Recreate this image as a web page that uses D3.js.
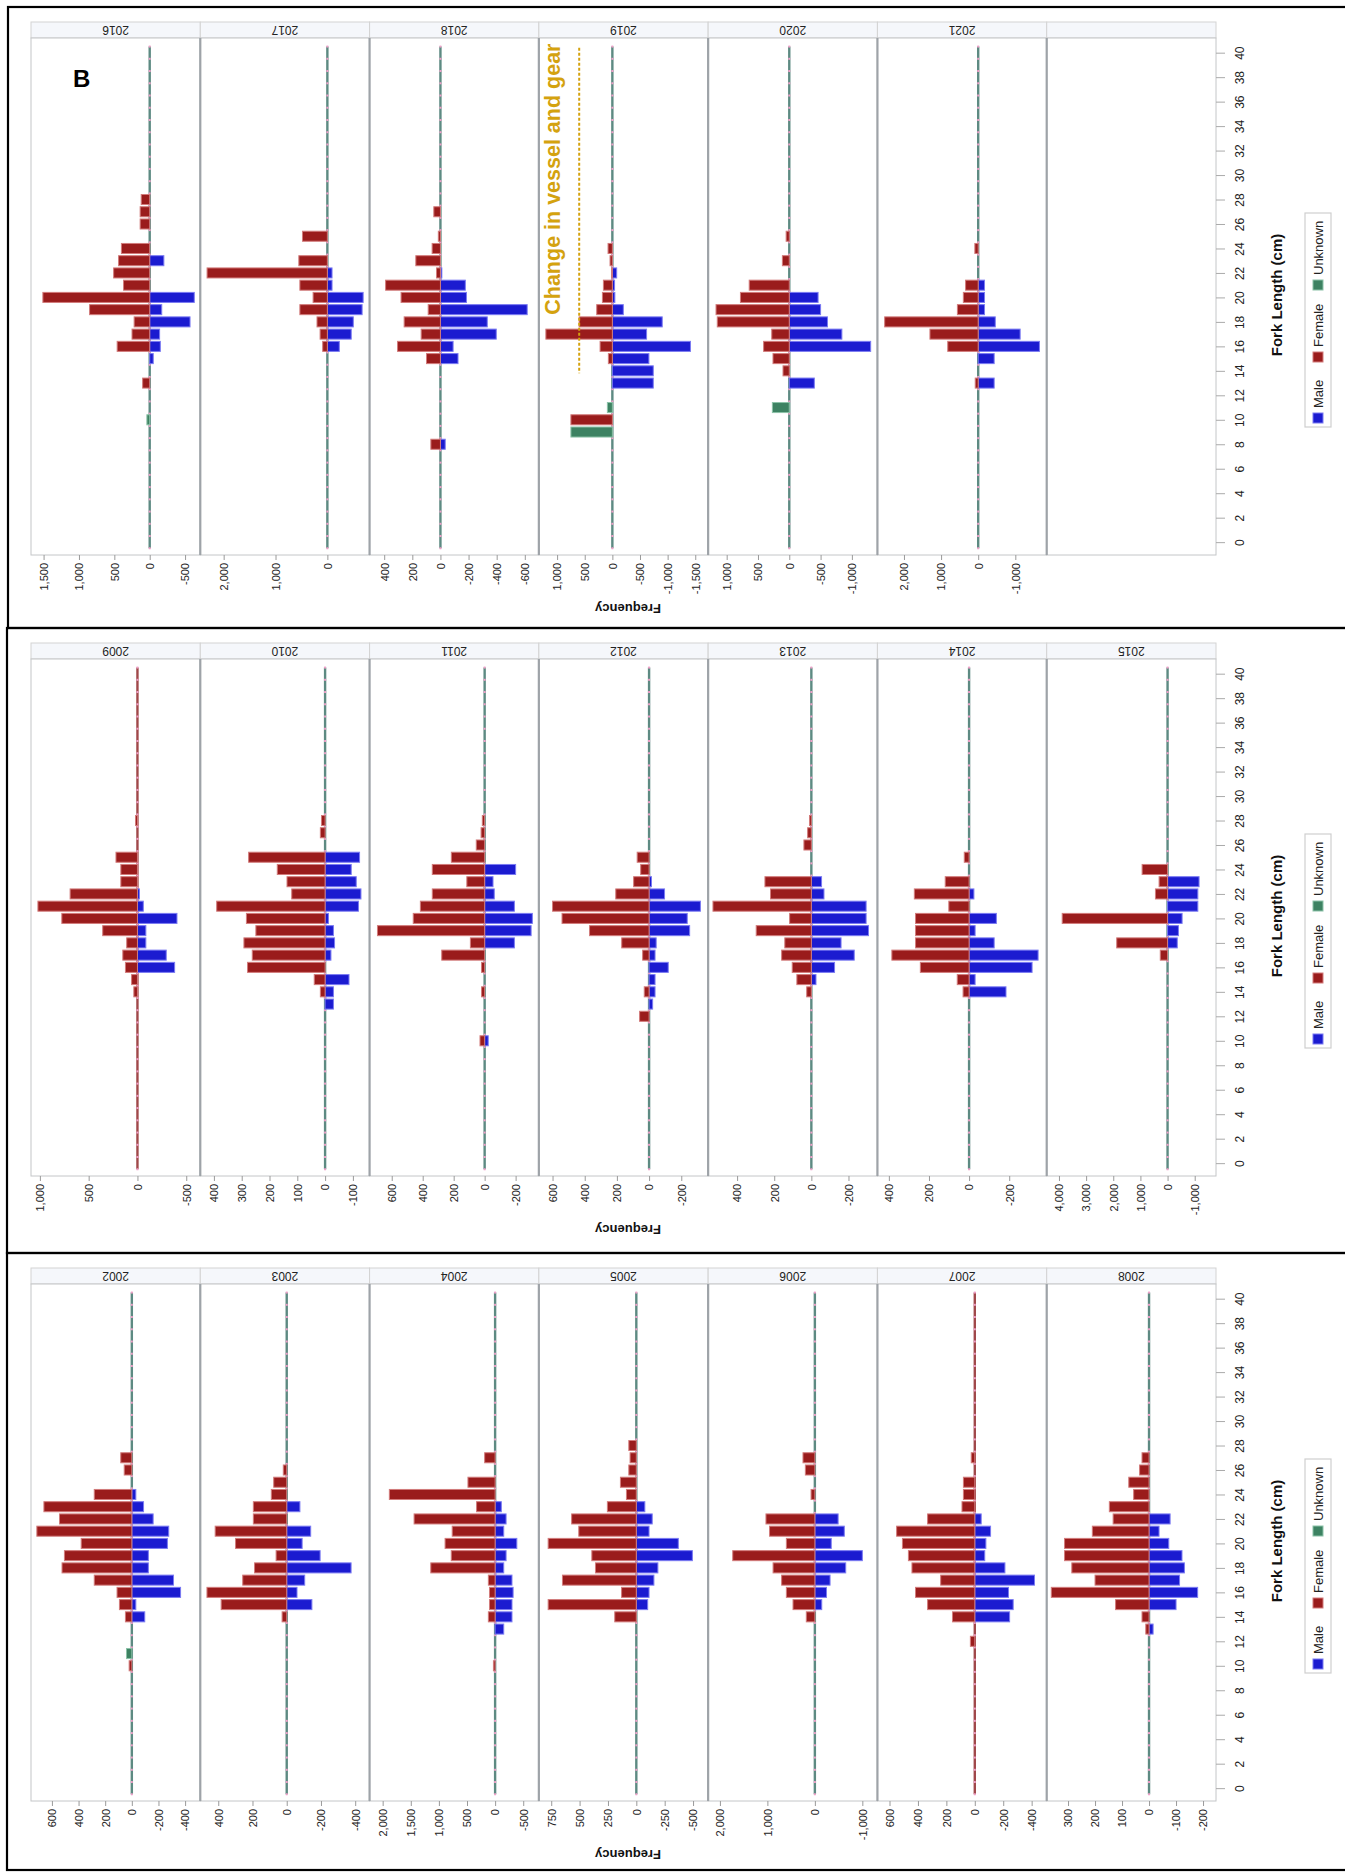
<!DOCTYPE html>
<html>
<head>
<meta charset="utf-8">
<script src="https://cdn.jsdelivr.net/npm/d3@7"></script>
<style>
  body { margin: 0; background: #fff; }
  svg { display: block; }
</style>
</head>
<body>
<svg id="chart" width="1345" height="1873"></svg>
<script>
// ---- Years shown in each framed row (left to right) ----
const rowYears = [
  ["2016", "2017", "2018", "2019", "2020", "2021", ""],
  ["2009", "2010", "2011", "2012", "2013", "2014", "2015"],
  ["2002", "2003", "2004", "2005", "2006", "2007", "2008"]
];
const rowTags = ["B", "", ""];

// ---- Frequency axis limits [left end, right end] per year (females positive, males negative) ----
const limitsRow1 = [[1678, -715], [2451, -814], [504, -700], [1330, -1733], [1296, -1408], [2715, -1846]];
const limitsRow2 = [[1091, -644], [449, -160], [743, -350], [685, -367], [556, -356], [457, -387], [4451, -1784]];
const limitsRow3 = [[757, -514], [505, -484], [2233, -778], [859, -633], [2248, -1318], [685, -506], [379, -248]];

// ---- Frequency tick values per year ----
const ticksRow1 = [[1500, 1000, 500, 0, -500], [2000, 1000, 0], [400, 200, 0, -200, -400, -600],
  [1000, 500, 0, -500, -1000, -1500], [1000, 500, 0, -500, -1000], [2000, 1000, 0, -1000]];
const ticksRow2 = [[1000, 500, 0, -500], [400, 300, 200, 100, 0, -100], [600, 400, 200, 0, -200],
  [600, 400, 200, 0, -200], [400, 200, 0, -200], [400, 200, 0, -200], [4000, 3000, 2000, 1000, 0, -1000]];
const ticksRow3 = [[600, 400, 200, 0, -200, -400], [400, 200, 0, -200, -400], [2000, 1500, 1000, 500, 0, -500],
  [750, 500, 250, 0, -250, -500], [2000, 1000, 0, -1000], [600, 400, 200, 0, -200, -400], [300, 200, 100, 0, -100, -200]];

// ---- Fork length ticks ----
const forkTicks = d3.range(0, 41, 2);

// ---- Counts by fork length (cm): [length, frequency]; males plotted as negative ----
const female2016 = [[28,120],[27,135],[26,135],[24,400],[23,440],[22,510],[21,370],[20,1510],[19,850],[18,220],[17,250],[16,460],[13,100]];
const male2016   = [[23,-200],[20,-630],[19,-170],[18,-570],[17,-140],[16,-150],[15,-50]];
const unknown2016 = [[10,40]];

const female2017 = [[25,480],[23,550],[22,2320],[21,530],[20,275],[19,530],[18,200],[17,140],[16,90]];
const male2017   = [[22,-90],[21,-90],[20,-690],[19,-670],[18,-500],[17,-460],[16,-230]];
const unknown2017 = [];

const female2018 = [[27,47],[25,15],[24,59],[23,175],[22,28],[21,390],[20,280],[19,87],[18,258],[17,137],[16,305],[15,99],[8,68]];
const male2018   = [[22,-10],[21,-177],[20,-185],[19,-617],[18,-333],[17,-397],[16,-90],[15,-125],[8,-34]];
const unknown2018 = [];

const female2019 = [[24,78],[23,42],[22,15],[21,162],[20,180],[19,283],[18,601],[17,1203],[16,222],[15,72],[10,750]];
const male2019   = [[22,-78],[21,-40],[20,-45],[19,-198],[18,-902],[17,-619],[16,-1413],[15,-661],[14,-740],[13,-740]];
const unknown2019 = [[11,90],[9,750]];

const female2020 = [[25,50],[23,110],[21,640],[20,780],[19,1170],[18,1150],[17,280],[16,410],[15,260],[14,100]];
const male2020   = [[20,-460],[19,-500],[18,-610],[17,-840],[16,-1300],[13,-400]];
const unknown2020 = [[11,270]];

const female2021 = [[24,90],[21,340],[20,400],[19,560],[18,2520],[17,1300],[16,820],[13,80]];
const male2021   = [[21,-170],[20,-170],[19,-170],[18,-460],[17,-1130],[16,-1650],[15,-430],[13,-430]];
const unknown2021 = [];

const female2009 = [[28,20],[25,220],[24,170],[23,170],[22,690],[21,1020],[20,775],[19,356],[18,110],[17,150],[16,123],[15,60],[14,37]];
const male2009   = [[22,-20],[21,-60],[20,-405],[19,-86],[18,-86],[17,-295],[16,-381]];
const unknown2009 = [];

const female2010 = [[28,13],[27,17],[25,275],[24,172],[23,137],[22,120],[21,390],[20,283],[19,249],[18,292],[17,262],[16,279],[15,39],[14,17]];
const male2010   = [[25,-124],[24,-94],[23,-112],[22,-129],[21,-120],[20,-12],[19,-30],[18,-34],[17,-21],[15,-86],[14,-30],[13,-30]];
const unknown2010 = [];

const female2011 = [[28,15],[27,23],[26,54],[25,215],[24,338],[23,115],[22,338],[21,415],[20,461],[19,692],[18,92],[17,277],[16,20],[14,20],[10,30]];
const male2011   = [[24,-200],[23,-54],[22,-62],[21,-192],[20,-308],[19,-300],[18,-192],[10,-23]];
const unknown2011 = [];

const female2012 = [[25,74],[24,52],[23,96],[22,207],[21,600],[20,541],[19,370],[18,170],[17,40],[14,30],[12,59]];
const male2012   = [[23,-15],[22,-96],[21,-319],[20,-237],[19,-252],[18,-44],[17,-37],[16,-119],[15,-37],[14,-37],[13,-22]];
const unknown2012 = [];

const female2013 = [[28,10],[27,20],[26,40],[23,250],[22,220],[21,530],[20,117],[19,297],[18,143],[17,160],[16,103],[15,78],[14,25]];
const male2013   = [[23,-55],[22,-68],[21,-295],[20,-295],[19,-308],[18,-160],[17,-231],[16,-125],[15,-25]];
const unknown2013 = [];

const female2014 = [[25,24],[23,119],[22,273],[21,101],[20,267],[19,267],[18,267],[17,385],[16,243],[15,59],[14,30]];
const male2014   = [[22,-24],[20,-136],[19,-30],[18,-125],[17,-344],[16,-314],[15,-30],[14,-184]];
const unknown2014 = [];

const female2015 = [[24,937],[23,312],[22,446],[20,3880],[18,1873],[17,268]];
const male2015   = [[23,-1160],[22,-1115],[21,-1115],[20,-535],[19,-400],[18,-357]];
const unknown2015 = [];

const female2002 = [[27,83],[26,57],[24,282],[23,660],[22,543],[21,713],[20,380],[19,506],[18,524],[17,282],[16,111],[15,93],[14,48],[10,20]];
const male2002   = [[24,-30],[23,-88],[22,-160],[21,-277],[20,-267],[19,-124],[18,-124],[17,-313],[16,-366],[15,-30],[14,-97]];
const unknown2002 = [[11,40]];

const female2003 = [[26,20],[25,76],[24,90],[23,195],[22,195],[21,418],[20,299],[19,62],[18,188],[17,257],[16,466],[15,383],[14,27]];
const male2003   = [[23,-77],[21,-140],[20,-90],[19,-195],[18,-376],[17,-105],[16,-60],[15,-147]];
const unknown2003 = [];

const female2004 = [[27,186],[25,483],[24,1881],[23,330],[22,1441],[21,763],[20,890],[19,780],[18,1144],[17,120],[16,100],[15,100],[14,120],[10,30]];
const male2004   = [[23,-110],[22,-195],[21,-153],[20,-386],[19,-195],[18,-153],[17,-300],[16,-320],[15,-300],[14,-300],[13,-153]];
const unknown2004 = [];

const female2005 = [[28,66],[27,55],[26,66],[25,140],[24,87],[23,255],[22,570],[21,507],[20,777],[19,392],[18,360],[17,651],[16,130],[15,777],[14,190]];
const male2005   = [[23,-75],[22,-140],[21,-112],[20,-370],[19,-494],[18,-190],[17,-155],[16,-112],[15,-100]];
const unknown2005 = [];

const female2006 = [[27,250],[26,200],[24,80],[22,1030],[21,955],[20,600],[19,1730],[18,880],[17,700],[16,600],[15,460],[14,180]];
const male2006   = [[22,-490],[21,-620],[20,-345],[19,-1000],[18,-650],[17,-320],[16,-245],[15,-145]];
const unknown2006 = [];

const female2007 = [[27,25],[25,80],[24,80],[23,90],[22,332],[21,550],[20,509],[19,467],[18,442],[17,240],[16,417],[15,332],[14,157],[12,31]];
const male2007   = [[22,-45],[21,-111],[20,-78],[19,-70],[18,-212],[17,-420],[16,-237],[15,-270],[14,-245]];
const unknown2007 = [];

const female2008 = [[27,26],[26,35],[25,75],[24,57],[23,147],[22,133],[21,210],[20,313],[19,313],[18,286],[17,200],[16,362],[15,124],[14,26],[13,12]];
const male2008   = [[22,-78],[21,-37],[20,-73],[19,-122],[18,-131],[17,-113],[16,-180],[15,-100],[13,-15]];
const unknown2008 = [];

// Zero line shows the female colour in years without unknown-sex records
const redBaselineYears = ["2009", "2007"];

// lookup table built from the arrays above
const counts = {
  "2002": [male2002, female2002, unknown2002], "2003": [male2003, female2003, unknown2003],
  "2004": [male2004, female2004, unknown2004], "2005": [male2005, female2005, unknown2005],
  "2006": [male2006, female2006, unknown2006], "2007": [male2007, female2007, unknown2007],
  "2008": [male2008, female2008, unknown2008], "2009": [male2009, female2009, unknown2009],
  "2010": [male2010, female2010, unknown2010], "2011": [male2011, female2011, unknown2011],
  "2012": [male2012, female2012, unknown2012], "2013": [male2013, female2013, unknown2013],
  "2014": [male2014, female2014, unknown2014], "2015": [male2015, female2015, unknown2015],
  "2016": [male2016, female2016, unknown2016], "2017": [male2017, female2017, unknown2017],
  "2018": [male2018, female2018, unknown2018], "2019": [male2019, female2019, unknown2019],
  "2020": [male2020, female2020, unknown2020], "2021": [male2021, female2021, unknown2021]
};
const rowLimits = [limitsRow1, limitsRow2, limitsRow3];
const rowTicks = [ticksRow1, ticksRow2, ticksRow3];

// Series styling: Male, Female, Unknown
const seriesNames = ["Male", "Female", "Unknown"];
const seriesFill = ["#1b1bd0", "#9a1c1c", "#3d8262"];
const seriesStroke = ["#7a7af2", "#d27b7b", "#8cc2a8"];

// ---- Layout ----
const svg = d3.select("#chart");
const rowTops = [7, 628, 1253];
const rowHeight = [621, 625, 617];
const plotLeft = 31, plotRight = 1216;
const nPanels = 7;
const panelW = (plotRight - plotLeft) / nPanels;
const stripTop = 15, plotTop = 31, plotBottom = 548;
const narrow = "'Liberation Sans Narrow', 'Arial Narrow', 'Liberation Sans', Arial, sans-serif";
const sans = "'Liberation Sans', Arial, Helvetica, sans-serif";
const fmt = v => d3.format(",")(v).replace("\u2212", "-");

rowYears.forEach((years, r) => {
  const T = rowTops[r];
  const g = svg.append("g").attr("transform", `translate(0,${T})`);

  // outer frame (right edge runs off the page)
  g.append("rect")
    .attr("x", r === 0 ? 8 : 7).attr("y", 0)
    .attr("width", 1345).attr("height", rowHeight[r])
    .attr("fill", "none").attr("stroke", "#000").attr("stroke-width", 2.2);

  const yScale = d3.scaleLinear().domain([-1.05, 41.2]).range([plotBottom, plotTop]);

  years.forEach((year, i) => {
    const x0 = plotLeft + i * panelW, x1 = x0 + panelW;

    // strip header
    g.append("rect").attr("x", x0).attr("y", stripTop).attr("width", panelW).attr("height", plotTop - stripTop)
      .attr("fill", "#f5f7fb").attr("stroke", "#d3d3d3").attr("stroke-width", 1);
    if (year) {
      g.append("text")
        .attr("transform", `translate(${x0 + panelW / 2},${(stripTop + plotTop) / 2}) rotate(180)`)
        .attr("text-anchor", "middle").attr("dominant-baseline", "central")
        .attr("font-family", sans).attr("font-size", 12).attr("fill", "#222")
        .text(year);
    }

    // plot frame
    g.append("rect").attr("x", x0).attr("y", plotTop).attr("width", panelW).attr("height", plotBottom - plotTop)
      .attr("fill", "#fff").attr("stroke", "#c4c6c8").attr("stroke-width", 1);
    if (i > 0) {
      g.append("line").attr("x1", x0).attr("x2", x0).attr("y1", plotTop).attr("y2", plotBottom)
        .attr("stroke", "#9ea3a8").attr("stroke-width", 2.2);
    }

    if (!year) return;

    const xScale = d3.scaleLinear().domain(rowLimits[r][i]).range([x0, x1]);

    // frequency axis
    const ax = g.append("g").attr("transform", `translate(0,${plotBottom})`)
      .call(d3.axisBottom(xScale).tickValues(rowTicks[r][i]).tickFormat(fmt).tickSize(5).tickSizeOuter(0));
    ax.select(".domain").remove();
    ax.selectAll(".tick line").attr("stroke", "#9a9a9a");
    ax.selectAll(".tick text")
      .attr("transform", "rotate(-90)")
      .attr("x", -8).attr("y", 0).attr("dy", "0.35em")
      .attr("text-anchor", "end")
      .attr("font-family", sans).attr("font-size", 11).attr("fill", "#222");

    // zero line made of empty bins
    const baseColor = redBaselineYears.includes(year) ? "#a0484a" : "#5d8a82";
    g.append("line")
      .attr("x1", xScale(0)).attr("x2", xScale(0))
      .attr("y1", yScale(40.5)).attr("y2", yScale(-0.5))
      .attr("stroke", baseColor).attr("stroke-width", 2.4);
    g.selectAll(null).data(d3.range(-0.5, 40.6, 1)).enter().append("line")
      .attr("x1", xScale(0)).attr("x2", xScale(0))
      .attr("y1", d => yScale(d) - 1).attr("y2", d => yScale(d) + 1)
      .attr("stroke", "#ef9fc8").attr("stroke-width", 2);

    // bars: male, female, unknown
    const bh = 0.41;
    counts[year].forEach((series, s) => {
      g.selectAll(null).data(series).enter().append("rect")
        .attr("x", d => Math.min(xScale(0), xScale(d[1])))
        .attr("width", d => Math.abs(xScale(d[1]) - xScale(0)))
        .attr("y", d => yScale(d[0] + bh))
        .attr("height", d => yScale(d[0] - bh) - yScale(d[0] + bh))
        .attr("fill", seriesFill[s])
        .attr("stroke", seriesStroke[s]).attr("stroke-width", 1);
    });

    // vessel/gear change marker
    if (year === "2019") {
      g.append("line")
        .attr("x1", xScale(600)).attr("x2", xScale(600))
        .attr("y1", yScale(40.4)).attr("y2", yScale(13.8))
        .attr("stroke", "#d4a20f").attr("stroke-width", 2).attr("stroke-dasharray", "3,2");
      g.append("text")
        .attr("transform", `translate(${xScale(1093)},${yScale(40.75)}) rotate(-90)`)
        .attr("text-anchor", "end").attr("dy", "0.36em")
        .attr("font-family", sans).attr("font-weight", "bold").attr("font-size", 21.5)
        .attr("fill", "#d4a20f")
        .text("Change in vessel and gear");
    }
  });

  // fork length axis on the right
  const fa = g.append("g").attr("transform", `translate(${plotRight},0)`)
    .call(d3.axisRight(yScale).tickValues(forkTicks).tickSize(9).tickSizeOuter(0));
  fa.select(".domain").remove();
  fa.selectAll(".tick line").attr("stroke", "#aaa");
  fa.selectAll(".tick text")
    .attr("transform", "rotate(-90)")
    .attr("x", 0).attr("y", 24).attr("dy", "0.35em")
    .attr("text-anchor", "middle")
    .attr("font-family", narrow).attr("font-size", 12).attr("fill", "#222");

  g.append("text")
    .attr("transform", `translate(1276,${288}) rotate(-90)`)
    .attr("text-anchor", "middle").attr("dominant-baseline", "central")
    .attr("font-family", narrow).attr("font-weight", "bold").attr("font-size", 15).attr("fill", "#111")
    .text("Fork Length (cm)");

  // frequency title
  g.append("text")
    .attr("transform", `translate(628,${601}) rotate(180)`)
    .attr("text-anchor", "middle").attr("dominant-baseline", "central")
    .attr("font-family", sans).attr("font-weight", "bold").attr("font-size", 13).attr("fill", "#111")
    .text("Frequency");

  // legend
  const lg = g.append("g").attr("transform", `translate(1318,${313}) rotate(-90)`);
  lg.append("rect").attr("x", -107).attr("y", -13).attr("width", 214).attr("height", 26)
    .attr("fill", "#fff").attr("stroke", "#cfcfcf").attr("stroke-width", 1.2);
  const itemX = [-103, -42, 30];
  seriesNames.forEach((name, s) => {
    lg.append("rect").attr("x", itemX[s]).attr("y", -5).attr("width", 10).attr("height", 10)
      .attr("fill", seriesFill[s]).attr("stroke", seriesStroke[s]).attr("stroke-width", 1);
    lg.append("text").attr("x", itemX[s] + 15).attr("y", 0).attr("dy", "0.35em")
      .attr("font-family", narrow).attr("font-size", 13).attr("fill", "#222")
      .text(name);
  });

  if (rowTags[r]) {
    g.append("text").attr("x", 73).attr("y", 80)
      .attr("font-family", sans).attr("font-weight", "bold").attr("font-size", 24).attr("fill", "#000")
      .text(rowTags[r]);
  }
});
</script>
</body>
</html>
